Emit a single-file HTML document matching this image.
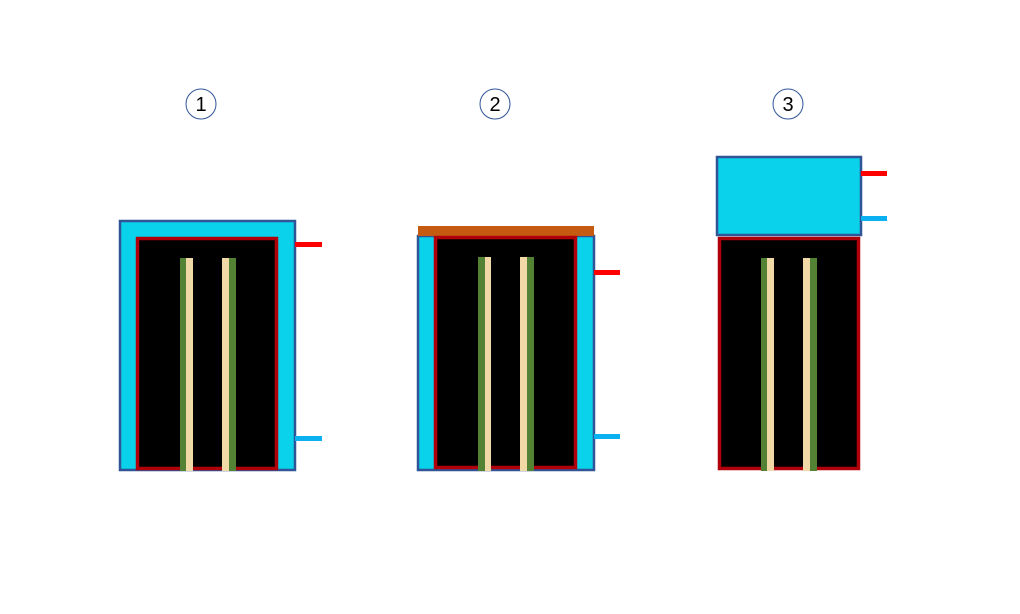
<!DOCTYPE html>
<html><head><style>body{margin:0;background:#fff}svg{display:block}</style></head><body>
<svg width="1020" height="614" xmlns="http://www.w3.org/2000/svg" font-family="Liberation Sans, sans-serif">
<g fill="#fff" stroke="#2f5597" stroke-width="1">
<circle cx="201" cy="104" r="15"/><circle cx="495" cy="104" r="15"/><circle cx="788" cy="104" r="15"/></g>
<g font-size="20" text-anchor="middle" fill="#000">
<text x="201" y="111">1</text><text x="495" y="111">2</text><text x="788" y="111">3</text></g>
<!-- 1 -->
<rect x="120" y="221" width="175" height="249" fill="#0ad2ea" stroke="#2f5597" stroke-width="2.5"/>
<rect x="137.5" y="238.5" width="139" height="230" fill="#000" stroke="#b0000a" stroke-width="3.5"/>
<rect x="180" y="258" width="6" height="213" fill="#548235"/><rect x="186" y="258" width="7" height="213" fill="#f0d9a6"/>
<rect x="222" y="258" width="7" height="213" fill="#f0d9a6"/><rect x="229" y="258" width="7" height="213" fill="#548235"/>
<rect x="295" y="242" width="27" height="5" fill="#f00"/><rect x="295" y="436" width="27" height="5" fill="#0ab0f0"/>
<!-- 2 -->
<rect x="418" y="236" width="176" height="234" fill="#0ad2ea" stroke="#2f5597" stroke-width="2.5"/>
<rect x="418" y="226" width="176" height="10" fill="#c55a11"/>
<rect x="435.5" y="237.5" width="140" height="230" fill="#000" stroke="#b0000a" stroke-width="3.5"/>
<rect x="478" y="257" width="7" height="214" fill="#548235"/><rect x="485" y="257" width="6" height="214" fill="#f0d9a6"/>
<rect x="520" y="257" width="7" height="214" fill="#f0d9a6"/><rect x="527" y="257" width="7" height="214" fill="#548235"/>
<rect x="594" y="270" width="26" height="5" fill="#f00"/><rect x="594" y="434" width="26" height="5" fill="#0ab0f0"/>
<!-- 3 -->
<rect x="717" y="157" width="144" height="78" fill="#0ad2ea" stroke="#2f5597" stroke-width="2.5"/>
<rect x="719.5" y="238.5" width="139" height="230" fill="#000" stroke="#b0000a" stroke-width="3.5"/>
<rect x="761" y="258" width="6" height="213" fill="#548235"/><rect x="767" y="258" width="7" height="213" fill="#f0d9a6"/>
<rect x="803" y="258" width="7" height="213" fill="#f0d9a6"/><rect x="810" y="258" width="7" height="213" fill="#548235"/>
<rect x="861" y="171" width="26" height="5" fill="#f00"/><rect x="861" y="216" width="26" height="5" fill="#0ab0f0"/>
</svg>
</body></html>
